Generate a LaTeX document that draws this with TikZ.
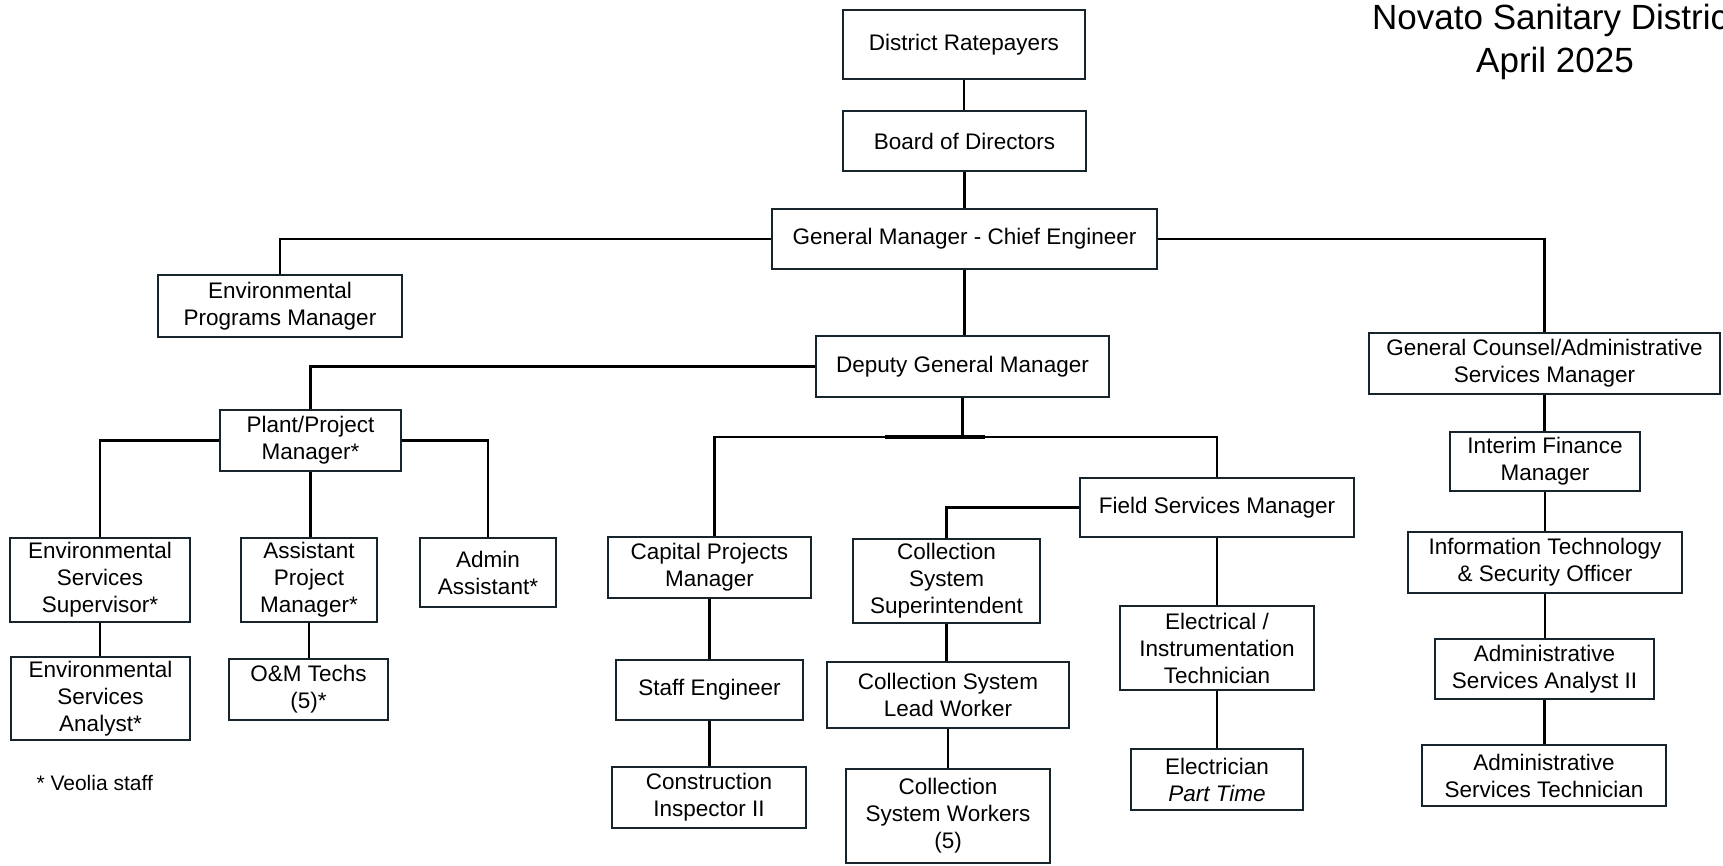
\documentclass[tikz,border=0pt]{standalone}
\usepackage{fontspec}
\setmainfont{Liberation Sans}
\definecolor{ink}{HTML}{17242B}
\tikzset{
  box/.style={draw=ink, line width=2.8pt, fill=white, inner sep=0pt, align=center,
              font=\fontsize{22.5}{27}\selectfont, text=black},
  link/.style={draw=black, line width=2.8pt},
}
\begin{document}
\begin{tikzpicture}[x=1pt, y=-1pt]
\clip (0,0) rectangle (1723,865);
\fill[white] (0,0) rectangle (1723,865);

% heading
\node[anchor=base, font=\fontsize{35}{42}\selectfont] (title1) at (1555,29) {Novato Sanitary District};
\node[anchor=base, font=\fontsize{35}{42}\selectfont] (title2) at (1555,72) {April 2025};

% top of the chart
\node[box, minimum width=242pt, minimum height=69pt] (rate) at (964,44.5) {District Ratepayers};
\node[box, minimum width=243pt, minimum height=60pt] (board) at (964.5,141) {Board of Directors};
\node[box, minimum width=385pt, minimum height=60pt] (gm) at (964.5,239) {General Manager - Chief Engineer};
\node[box, minimum width=244pt, minimum height=62pt] (envprog) at (280,306) {Environmental\\Programs Manager};
\node[box, minimum width=293pt, minimum height=61pt] (dgm) at (962.5,366.5) {Deputy General Manager};
\node[box, minimum width=351pt, minimum height=61pt] (gc) at (1544.5,363.5) {General Counsel/Administrative\\Services Manager};

% plant branch
\node[box, minimum width=181pt, minimum height=61pt] (plant) at (310.5,440.5) {Plant/Project\\Manager*};
\node[box, minimum width=180pt, minimum height=84pt] (ess) at (100,580) {Environmental\\Services\\Supervisor*};
\node[box, minimum width=136pt, minimum height=84pt] (apm) at (309,580) {Assistant\\Project\\Manager*};
\node[box, minimum width=136pt, minimum height=69pt] (admin) at (488,572.5) {Admin\\Assistant*};
\node[box, minimum width=179pt, minimum height=83pt] (esa) at (100.5,698.5) {Environmental\\Services\\Analyst*};
\node[box, minimum width=159pt, minimum height=61pt] (om) at (308.5,689.5) {O\&M Techs\\(5)*};
\node[anchor=west, font=\fontsize{21}{25}\selectfont] (veolia) at (33,783) {* Veolia staff};

% capital projects branch
\node[box, minimum width=203pt, minimum height=61pt] (cpm) at (709.5,567.5) {Capital Projects\\Manager};
\node[box, minimum width=187pt, minimum height=60pt] (staff) at (709.5,690) {Staff Engineer};
\node[box, minimum width=194pt, minimum height=61pt] (ci) at (709,797.5) {Construction\\Inspector II};

% field services branch
\node[box, minimum width=274pt, minimum height=59pt] (fsm) at (1217,507.5) {Field Services Manager};
\node[box, minimum width=187pt, minimum height=84pt] (csup) at (946.5,581) {Collection\\System\\Superintendent};
\node[box, minimum width=242pt, minimum height=66pt] (clead) at (948,695) {Collection System\\Lead Worker};
\node[box, minimum width=204pt, minimum height=94pt] (cwork) at (948,816) {Collection\\System Workers\\(5)};
\node[box, minimum width=194pt, minimum height=84pt] (ei) at (1217,648) {Electrical /\\Instrumentation\\Technician};
\node[box, minimum width=172pt, minimum height=61pt] (elec) at (1217,779.5) {Electrician\\\textit{Part Time}};

% administrative branch
\node[box, minimum width=190pt, minimum height=59pt] (ifm) at (1545,461.5) {Interim Finance\\Manager};
\node[box, minimum width=274pt, minimum height=61pt] (it) at (1545,562.5) {Information Technology\\\& Security Officer};
\node[box, minimum width=219pt, minimum height=60pt] (asa) at (1544.5,669) {Administrative\\Services Analyst II};
\node[box, minimum width=244pt, minimum height=61pt] (ast) at (1544,775.5) {Administrative\\Services Technician};

\coordinate (dj) at (962.5,437);

% connectors
\begin{scope}[on background layer/.style={}]
\draw[link] (rate.south) -- (rate.south |- board.north);
\draw[link] (board.south) -- (board.south |- gm.north);
\draw[link] (gm.west) -| (envprog.north);
\draw[link] (gm.east) -| (gc.north);
\draw[link] (gm.south) -- (gm.south |- dgm.north);
\draw[link] (dgm.west) -| (plant.north);
\draw[link] (dgm.south) -- (dj);
\draw[link] ([xshift=5pt]cpm.north) |- (dj) -| (fsm.north);
\draw[line width=4.6pt] (885,437) -- (985,437);
\draw[link] (plant.west) -| (ess.north);
\draw[link] (plant.east) -| (admin.north);
\draw[link] (plant.south) -- (plant.south |- apm.north);
\draw[link] (ess.south) -- (ess.south |- esa.north);
\draw[link] (apm.south) -- (apm.south |- om.north);
\draw[link] (cpm.south) -- (cpm.south |- staff.north);
\draw[link] (staff.south) -- (staff.south |- ci.north);
\draw[link] (fsm.west) -| (csup.north);
\draw[link] (csup.south) -- (csup.south |- clead.north);
\draw[link] (clead.south) -- (clead.south |- cwork.north);
\draw[link] (fsm.south) -- (fsm.south |- ei.north);
\draw[link] (ei.south) -- (ei.south |- elec.north);
\draw[link] (gc.south) -- (gc.south |- ifm.north);
\draw[link] (ifm.south) -- (ifm.south |- it.north);
\draw[link] (it.south) -- (it.south |- asa.north);
\draw[link] (asa.south) -- (asa.south |- ast.north);
\end{scope}
\end{tikzpicture}
\end{document}
